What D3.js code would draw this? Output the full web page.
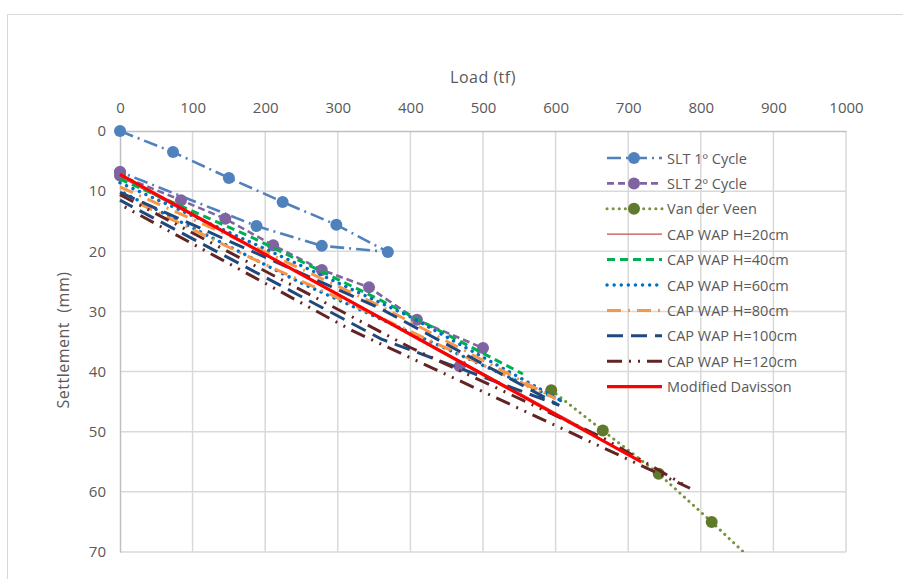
<!DOCTYPE html>
<html>
<head>
<meta charset="utf-8">
<script src="https://cdn.jsdelivr.net/npm/d3@7"></script>
<style>
  body { margin: 0; background: #fff; }
  text { font-family: "Open Sans", Lato, sans-serif; fill: #595959; }
</style>
</head>
<body>
<div id="chart"></div>
<script>
// load (tf) / settlement (mm) pairs
const slt1 = [[0, 0], [73, 3.5], [150, 7.8], [224, 11.8], [298, 15.6], [369, 20.1], [278, 19.1], [188, 15.8], [0, 6.8]];
const slt2 = [[0, 6.8], [0, 7.4], [84, 11.5], [145, 14.6], [211, 19], [278, 23.1], [343, 26], [409, 31.4], [500, 36.1], [468, 39.1]];
const vanDerVeen = [[594, 43.1], [665, 49.8], [742, 57], [815, 65], [885, 73]];
const capwap20 = [[0, 7.6], [360, 31], [640, 49.5]];
const capwap40 = [[0, 8.0], [180, 17.6], [360, 28.2], [555, 40.4]];
const capwap60 = [[0, 8.6], [200, 19.6], [400, 30.9], [610, 45.0], [250, 25.3], [0, 10.0]];
const capwap80 = [[0, 9.3], [180, 19], [360, 29.2], [600, 44.5], [170, 20.5], [0, 10.5]];
const capwap100 = [[0, 10.2], [360, 29.6], [605, 45.6], [360, 34.6], [0, 11.5]];
const capwap120 = [[0, 10.6], [400, 36], [665, 51], [785, 59.4], [320, 33.2], [0, 12.2]];
const davisson = [[0, 7.2], [718, 55]];

const xTicks = [0, 100, 200, 300, 400, 500, 600, 700, 800, 900, 1000];
const yTicks = [0, 10, 20, 30, 40, 50, 60, 70];

const series = [
  { name: "SLT 1º Cycle", data: slt1, color: "#4f81bd", width: 2.6, dash: "14,5,2,5", marker: "#4f81bd" },
  { name: "SLT 2º Cycle", data: slt2, color: "#8064a2", width: 2.6, dash: "7,4", marker: "#8064a2" },
  { name: "Van der Veen", data: vanDerVeen, color: "#77933c", width: 3, dash: "0.1,6", cap: "round", marker: "#5f7a2c" },
  { name: "CAP WAP H=20cm", data: capwap20, color: "#c0504d", width: 1.2, dash: null },
  { name: "CAP WAP H=40cm", data: capwap40, color: "#00b050", width: 3, dash: "8,5" },
  { name: "CAP WAP H=60cm", data: capwap60, color: "#0070c0", width: 3.4, dash: "0.1,7", cap: "round" },
  { name: "CAP WAP H=80cm", data: capwap80, color: "#f79646", width: 3, dash: "14,7,2,7" },
  { name: "CAP WAP H=100cm", data: capwap100, color: "#1f497d", width: 3, dash: "16,8" },
  { name: "CAP WAP H=120cm", data: capwap120, color: "#632523", width: 3, dash: "15,7,2,7,2,7" },
  { name: "Modified Davisson", data: davisson, color: "#ff0000", width: 3.2, dash: null }
];

const W = 903, H = 579;
const plot = { left: 120, right: 846, top: 131, bottom: 552 };

const svg = d3.select("#chart").append("svg")
  .attr("width", W)
  .attr("height", H);

// chart frame
svg.append("rect")
  .attr("x", 7.5).attr("y", 14.5)
  .attr("width", W).attr("height", H)
  .attr("fill", "#fff")
  .attr("stroke", "#d9d9d9");

const x = d3.scaleLinear().domain([0, 1000]).range([plot.left, plot.right]);
const y = d3.scaleLinear().domain([0, 70]).range([plot.top, plot.bottom]);

// gridlines
svg.append("g")
  .selectAll("line")
  .data(xTicks.slice(1))
  .join("line")
  .attr("x1", d => x(d)).attr("x2", d => x(d))
  .attr("y1", plot.top).attr("y2", plot.bottom)
  .attr("stroke", "#d9d9d9").attr("stroke-width", 1.5);

svg.append("g")
  .selectAll("line")
  .data(yTicks.slice(1))
  .join("line")
  .attr("x1", plot.left).attr("x2", plot.right)
  .attr("y1", d => y(d)).attr("y2", d => y(d))
  .attr("stroke", "#d9d9d9").attr("stroke-width", 1.5);

// axes (top and left)
const xAxis = svg.append("g")
  .attr("transform", `translate(0,${plot.top})`)
  .call(d3.axisTop(x).tickValues(xTicks).tickFormat(d3.format("d")).tickSize(0).tickPadding(18));
const yAxis = svg.append("g")
  .attr("transform", `translate(${plot.left},0)`)
  .call(d3.axisLeft(y).tickValues(yTicks).tickFormat(d3.format("d")).tickSize(0).tickPadding(14));
[xAxis, yAxis].forEach(g => {
  g.select(".domain").attr("stroke", "#bfbfbf").attr("stroke-width", 1.5);
  g.selectAll("text").style("font-size", "15px").attr("fill", "#595959")
    .style("font-family", "'Open Sans', sans-serif");
});

svg.append("text")
  .attr("x", 483).attr("y", 83)
  .attr("text-anchor", "middle")
  .style("font-size", "16px")
  .style("letter-spacing", "0.5px")
  .text("Load (tf)");

svg.append("text")
  .attr("transform", "translate(69,340) rotate(-90)")
  .attr("text-anchor", "middle")
  .style("font-size", "16px")
  .style("letter-spacing", "0.5px")
  .style("white-space", "pre")
  .text("Settlement  (mm)");

// series
svg.append("clipPath").attr("id", "clip")
  .append("rect")
  .attr("x", plot.left - 8).attr("y", plot.top - 8)
  .attr("width", plot.right - plot.left + 16)
  .attr("height", plot.bottom - plot.top + 8);

const line = d3.line().x(d => x(d[0])).y(d => y(d[1]));
const body = svg.append("g").attr("clip-path", "url(#clip)");

series.forEach(s => {
  body.append("path")
    .attr("d", line(s.data))
    .attr("fill", "none")
    .attr("stroke", s.color)
    .attr("stroke-width", s.width)
    .attr("stroke-dasharray", s.dash)
    .attr("stroke-linecap", s.cap || "butt");
  if (s.marker) {
    body.append("g")
      .selectAll("circle")
      .data(s.data.filter(d => d[1] <= 70))
      .join("circle")
      .attr("cx", d => x(d[0]))
      .attr("cy", d => y(d[1]))
      .attr("r", 6)
      .attr("fill", s.marker);
  }
});

// legend
const legend = svg.append("g").attr("transform", "translate(607,158)");
series.forEach((s, i) => {
  const row = legend.append("g").attr("transform", `translate(0,${i * 25.4})`);
  row.append("line")
    .attr("x1", 0).attr("x2", 55)
    .attr("stroke", s.color)
    .attr("stroke-width", s.width)
    .attr("stroke-dasharray", s.dash)
    .attr("stroke-linecap", s.cap || "butt");
  if (s.marker) {
    row.append("circle").attr("cx", 27).attr("r", 6).attr("fill", s.marker);
  }
  row.append("text")
    .attr("x", 60).attr("y", 0)
    .attr("dominant-baseline", "central")
    .style("font-size", "14.5px")
    .text(s.name);
});
</script>
</body>
</html>
